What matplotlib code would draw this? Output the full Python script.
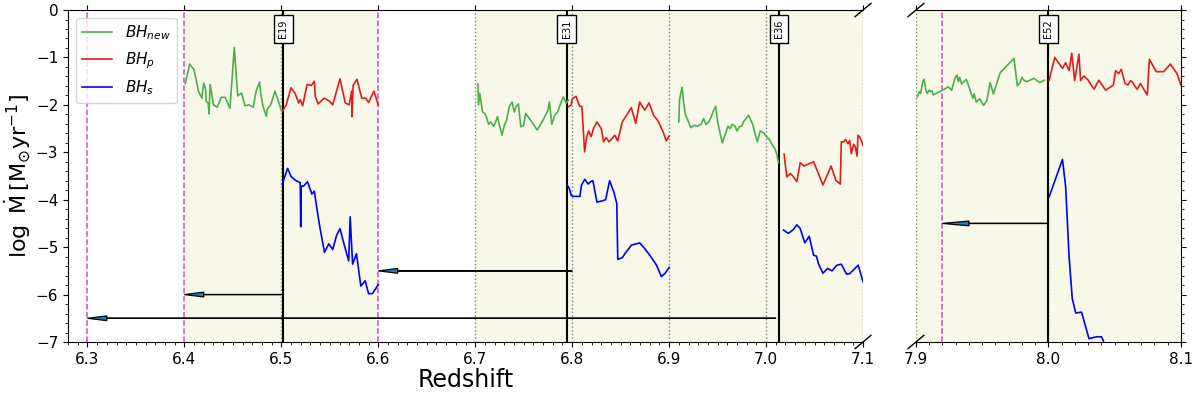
import numpy as np
import matplotlib
matplotlib.use('Agg')
import matplotlib.pyplot as plt
from matplotlib.ticker import MultipleLocator, FormatStrFormatter

# --- data ---------------------------------------------------------------
# BH_new (green) segments
new_z_a = [6.401, 6.4055, 6.41, 6.4145, 6.418, 6.420, 6.422, 6.4225, 6.4245, 6.4255, 6.4265, 6.430, 6.434,
           6.438, 6.442, 6.447, 6.4515, 6.455, 6.459, 6.4625, 6.4665, 6.471, 6.474, 6.4775, 6.479, 6.481,
           6.4845, 6.4855, 6.489, 6.4935, 6.5]
new_m_a = [-1.55, -1.14, -1.26, -1.71, -1.86, -1.54, -1.68, -1.93, -1.96, -2.19, -1.57, -2.0, -2.05,
           -1.84, -1.84, -2.07, -0.79, -1.81, -1.75, -2.02, -2.0, -2.05, -1.71, -1.52, -1.79, -2.02,
           -2.24, -2.09, -2.0, -1.71, -2.11]
new_z_b = [6.7028, 6.7034, 6.7048, 6.7062, 6.7076, 6.7097, 6.711, 6.7138, 6.716, 6.719, 6.721, 6.723,
           6.725, 6.7276, 6.730, 6.7324, 6.735, 6.738, 6.7403, 6.742, 6.7445, 6.747, 6.750, 6.752, 6.757,
           6.764, 6.770, 6.775, 6.7765, 6.779, 6.782, 6.785, 6.7886, 6.791, 6.7938, 6.796]
new_m_b = [-1.56, -2.0, -1.76, -1.97, -2.15, -2.18, -2.22, -2.41, -2.36, -2.45, -2.36, -2.25,
           -2.43, -2.64, -2.43, -2.32, -2.04, -1.94, -2.15, -2.04, -1.98, -2.46, -2.43, -2.18, -2.32,
           -2.53, -2.32, -2.11, -1.94, -2.41, -2.22, -2.15, -1.94, -1.83, -1.97, -1.90]
new_z_c = [6.910, 6.9107, 6.9124, 6.9134, 6.9148, 6.917, 6.919, 6.9224, 6.926, 6.9293, 6.933, 6.9355,
           6.938, 6.941, 6.9434, 6.946, 6.948, 6.950, 6.9548, 6.9583, 6.9607, 6.963, 6.965, 6.968,
           6.970, 6.9724, 6.975, 6.9766, 6.982, 6.9862, 6.989, 6.991, 6.994, 6.9976, 7.0, 7.0034,
           7.006, 7.009, 7.011, 7.0128]
new_m_c = [-2.36, -1.90, -1.72, -1.63, -1.94, -2.22, -2.31, -2.48, -2.43, -2.45, -2.41, -2.29,
           -2.41, -2.36, -2.25, -2.11, -2.03, -2.36, -2.80, -2.60, -2.45, -2.50, -2.41, -2.45,
           -2.55, -2.46, -2.45, -2.36, -2.22, -2.41, -2.64, -2.78, -2.55, -2.59, -2.66, -2.73,
           -2.83, -2.92, -3.03, -3.22]
new_z_d = [7.901, 7.9025, 7.9035, 7.905, 7.906, 7.9075, 7.9085, 7.910, 7.911, 7.912, 7.913, 7.9194,
           7.9244, 7.927, 7.9294, 7.931, 7.932, 7.933, 7.9345, 7.938, 7.943, 7.944, 7.9455, 7.948,
           7.951, 7.9535, 7.956, 7.9585, 7.9636, 7.974, 7.9765, 7.9786, 7.980, 7.9815, 7.9836,
           7.989, 7.9935, 7.997]
new_m_d = [-1.83, -1.72, -1.76, -1.53, -1.46, -1.69, -1.76, -1.69, -1.72, -1.70, -1.79, -1.70,
           -1.62, -1.69, -1.44, -1.37, -1.51, -1.42, -1.56, -1.46, -1.86, -1.77, -1.94, -1.87,
           -2.01, -1.91, -1.53, -1.77, -1.32, -1.02, -1.60, -1.53, -1.42, -1.48, -1.51,
           -1.44, -1.53, -1.48]

# BH_p (red) segments
p_z_a = [6.501, 6.505, 6.510, 6.514, 6.518, 6.5195, 6.522, 6.5265, 6.531, 6.534, 6.535, 6.538, 6.544,
         6.549, 6.553, 6.5605, 6.566, 6.570, 6.5725, 6.573, 6.574, 6.578, 6.583, 6.587, 6.590, 6.5955, 6.6]
p_m_a = [-2.14, -2.0, -1.64, -1.75, -1.96, -1.89, -2.02, -1.57, -1.59, -1.5, -1.82, -1.98, -1.86,
         -1.91, -2.0, -1.45, -1.96, -2.0, -1.71, -2.25, -1.59, -1.46, -1.86, -1.86, -1.95, -1.71, -2.0]
p_z_b = [6.796, 6.799, 6.800, 6.804, 6.8076, 6.810, 6.8128, 6.815, 6.817, 6.8196, 6.822, 6.8255, 6.830,
         6.8324, 6.835, 6.838, 6.844, 6.847, 6.8517, 6.856, 6.861, 6.8655, 6.8696, 6.8748, 6.8793,
         6.884, 6.8886, 6.8938, 6.897, 6.9]
p_m_b = [-2.04, -2.0, -1.87, -1.82, -2.03, -2.03, -2.99, -2.67, -2.55, -2.67, -2.5, -2.36, -2.5,
         -2.78, -2.69, -2.78, -2.64, -2.76, -2.36, -2.22, -2.06, -2.39, -1.94, -2.11, -1.96,
         -2.22, -2.34, -2.57, -2.76, -2.66]
p_z_c = [7.0186, 7.0197, 7.0214, 7.025, 7.0276, 7.0317, 7.0352, 7.0393, 7.0434, 7.049, 7.054, 7.0586,
         7.0627, 7.067, 7.072, 7.0765, 7.0776, 7.080, 7.082, 7.0845, 7.0862, 7.088, 7.0903, 7.092,
         7.0938, 7.0948, 7.097, 7.1]
p_m_c = [-3.04, -3.24, -3.52, -3.45, -3.50, -3.62, -3.22, -3.29, -3.25, -3.20, -3.45, -3.69,
         -3.50, -3.29, -3.59, -3.67, -2.78, -2.78, -2.73, -2.82, -2.75, -3.03, -2.83, -2.89,
         -3.08, -2.64, -2.69, -2.85]
p_z_d = [8.0005, 8.0048, 8.0075, 8.0106, 8.013, 8.0156, 8.0176, 8.0198, 8.023, 8.0243, 8.0268, 8.030,
         8.0344, 8.038, 8.0432, 8.0465, 8.049, 8.0507, 8.053, 8.055, 8.0578, 8.060, 8.062, 8.0638,
         8.065, 8.067, 8.0694, 8.073, 8.0746, 8.0762, 8.0814, 8.087, 8.092, 8.097, 8.1]
p_m_d = [-1.48, -1.0, -1.11, -1.23, -1.11, -1.28, -0.91, -1.49, -0.93, -1.49, -1.39, -1.48,
         -1.67, -1.48, -1.69, -1.63, -1.58, -1.28, -1.34, -1.25, -1.55, -1.58, -1.49, -1.53,
         -1.60, -1.67, -1.55, -1.72, -1.79, -1.04, -1.30, -1.30, -1.14, -1.34, -1.58]

# BH_s (blue) segments
s_z_a = [6.501, 6.503, 6.5065, 6.510, 6.5145, 6.5195, 6.520, 6.5205, 6.523, 6.527, 6.5315, 6.534,
         6.538, 6.540, 6.5445, 6.549, 6.553, 6.557, 6.5605, 6.565, 6.5695, 6.571, 6.5735, 6.5775,
         6.582, 6.5865, 6.590, 6.594, 6.6]
s_m_a = [-3.68, -3.54, -3.34, -3.51, -3.59, -3.64, -4.57, -3.72, -3.71, -3.62, -3.88, -3.82,
         -4.36, -4.61, -5.11, -4.93, -5.05, -4.75, -4.61, -4.96, -5.29, -4.36, -5.36, -5.14,
         -5.82, -5.71, -5.98, -5.98, -5.79]
s_z_b = [6.7948, 6.797, 6.799, 6.801, 6.808, 6.8096, 6.813, 6.8165, 6.819, 6.8214, 6.8255, 6.830,
         6.8345, 6.8386, 6.843, 6.846, 6.847, 6.8517, 6.855, 6.861, 6.8696, 6.8748, 6.880, 6.887,
         6.892, 6.8955, 6.9]
s_m_b = [-3.69, -3.76, -3.91, -3.93, -3.93, -3.69, -3.57, -3.67, -3.62, -3.60, -4.05, -4.03,
         -4.0, -3.60, -3.84, -4.08, -5.26, -5.22, -5.12, -4.96, -4.91, -5.03, -5.17, -5.38,
         -5.62, -5.56, -5.43]
s_z_c = [7.018, 7.023, 7.028, 7.0317, 7.035, 7.040, 7.0445, 7.049, 7.052, 7.054, 7.0586, 7.0634,
         7.068, 7.073, 7.0776, 7.083, 7.0862, 7.095, 7.1]
s_m_c = [-4.64, -4.71, -4.63, -4.53, -4.60, -4.91, -4.77, -5.17, -5.19, -5.35, -5.55, -5.45,
         -5.50, -5.38, -5.36, -5.57, -5.56, -5.38, -5.73]
s_z_d = [8.0005, 8.0106, 8.013, 8.0156, 8.018, 8.0206, 8.025, 8.0306, 8.0364, 8.040, 8.0415]
s_m_d = [-3.94, -3.15, -3.73, -5.21, -6.09, -6.39, -6.37, -6.93, -6.89, -6.89, -6.98]

# events, snapshots, arrows
event_z = [6.502, 6.7945, 7.0134, 8.0]
event_names = ['E19', 'E31', 'E36', 'E52']
snap_z = [6.5, 6.7, 6.8, 6.9, 7.0, 7.1, 7.9, 8.0]
magenta_z = [6.3, 6.4, 6.6, 7.92]
shade_spans = [(6.4, 6.6), (6.7, 7.1), (7.9, 8.1)]
arrow_from = [6.5, 6.8, 7.01, 8.0]
arrow_to = [6.4, 6.6, 6.3, 7.92]
arrow_y = [-6.0, -5.5, -6.5, -4.5]

c_new = '#4daf4a'
c_p = '#e41a1c'
c_s = 'blue'

fig = plt.figure(figsize=(12, 3.96), dpi=100)
ax1 = fig.add_axes([0.0567, 0.1364, 0.6625, 0.8383])
ax2 = fig.add_axes([0.7633, 0.1364, 0.2208, 0.8383])

for ax, lim in [(ax1, (6.28, 7.1)), (ax2, (7.9, 8.1))]:
    ax.set_xlim(lim)
    ax.set_ylim(-7, 0)
    for a, b in shade_spans:
        ax.axvspan(a, b, color='#f8f8e8', zorder=0, lw=0)
    for z in snap_z:
        ax.axvline(z, color='gray', ls=':', lw=1, zorder=1)
    for z in magenta_z:
        ax.axvline(z, color='m', ls='--', lw=1.1, alpha=0.7, zorder=1)
    for z, name in zip(event_z, event_names):
        if lim[0] <= z <= lim[1]:
            ax.axvline(z, color='k', lw=1.5, zorder=2)
            ax.text(z, -0.4, name, rotation=90, ha='center', va='center', fontsize=7, zorder=6,
                    bbox=dict(boxstyle='square,pad=0.45', fc='white', ec='k', lw=1))
    for x0, x1, y in zip(arrow_from, arrow_to, arrow_y):
        if lim[0] <= x1 <= lim[1]:
            ax.arrow(x0, y, x1 - x0, 0, width=0.004, head_width=0.1, head_length=0.02,
                     length_includes_head=True, fc='#2080c0', ec='k', lw=0.9, zorder=5)
    ax.yaxis.set_major_locator(MultipleLocator(1))
    ax.yaxis.set_minor_locator(MultipleLocator(0.2))
    ax.xaxis.set_major_locator(MultipleLocator(0.1))
    ax.xaxis.set_minor_locator(MultipleLocator(0.01))
    ax.xaxis.set_major_formatter(FormatStrFormatter('%.1f'))
    ax.tick_params(axis='x', which='major', top=True, labelsize=11)
    ax.tick_params(axis='y', which='major', labelsize=11)

# BH lines, left panel
ax1.plot(new_z_a, new_m_a, color=c_new, lw=1.2, label=r'$BH_{new}$')
ax1.plot(p_z_a, p_m_a, color=c_p, lw=1.2, label=r'$BH_p$')
ax1.plot(s_z_a, s_m_a, color=c_s, lw=1.2, label=r'$BH_s$')
ax1.plot(new_z_b, new_m_b, color=c_new, lw=1.2)
ax1.plot(new_z_c, new_m_c, color=c_new, lw=1.2)
ax1.plot(p_z_b, p_m_b, color=c_p, lw=1.2)
ax1.plot(p_z_c, p_m_c, color=c_p, lw=1.2)
ax1.plot(s_z_b, s_m_b, color=c_s, lw=1.2)
ax1.plot(s_z_c, s_m_c, color=c_s, lw=1.2)
# right panel
ax2.plot(new_z_d, new_m_d, color=c_new, lw=1.2)
ax2.plot(p_z_d, p_m_d, color=c_p, lw=1.2)
ax2.plot(s_z_d, s_m_d, color=c_s, lw=1.2)

# broken axis styling
ax1.spines['right'].set_visible(False)
ax2.spines['left'].set_visible(False)
ax2.yaxis.tick_right()
ax2.tick_params(axis='y', which='both', labelright=False)

kw = dict(transform=ax1.transAxes, color='k', clip_on=False, lw=1)
ax1.plot((1 - 0.01, 1 + 0.01), (1 - 0.02, 1 + 0.02), **kw)
ax1.plot((1 - 0.01, 1 + 0.01), (-0.02, 0.02), **kw)
kw.update(transform=ax2.transAxes)
ax2.plot((-0.03, 0.03), (1 - 0.02, 1 + 0.02), **kw)
ax2.plot((-0.03, 0.03), (-0.02, 0.02), **kw)

ax1.set_ylabel(r'$\log\ \dot{\mathrm{M}}\,[\mathrm{M_{\odot} yr^{-1}}]$', fontsize=16, labelpad=2)
ax1.set_xlabel('Redshift', fontsize=17, labelpad=1)
ax1.legend(loc='upper left', fontsize=11, handlelength=2.0)

fig.savefig('out.png', dpi=100)
